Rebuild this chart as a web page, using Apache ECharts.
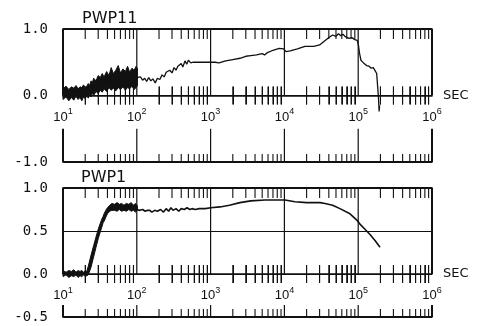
<!DOCTYPE html>
<html>
<head>
<meta charset="utf-8">
<script src="https://cdn.jsdelivr.net/npm/echarts@6/dist/echarts.min.js"></script>
<style>
  html, body { margin: 0; padding: 0; background: #fff; }
  #plot { width: 480px; height: 326px; }
</style>
</head>
<body>
<div id="plot"></div>
<script>
// PWP11 (upper panel): noisy band 10-100 s, then a single trace
var topBandT  = [10, 11, 12, 13, 14, 15, 16, 17, 18, 19, 20, 21, 22, 23, 24, 25, 26, 28, 30, 32, 34, 36, 39, 42, 45, 48, 52, 56, 60, 65, 70, 75, 80, 86, 92, 98, 102];
var topBandHi = [0.10, 0.14, 0.09, 0.13, 0.11, 0.15, 0.10, 0.13, 0.12, 0.16, 0.11, 0.14, 0.18, 0.15, 0.22, 0.19, 0.26, 0.22, 0.30, 0.27, 0.33, 0.28, 0.36, 0.30, 0.42, 0.33, 0.38, 0.45, 0.34, 0.40, 0.36, 0.44, 0.35, 0.41, 0.38, 0.44, 0.40];
var topBandLo = [-0.06, -0.02, -0.08, -0.03, -0.07, -0.01, -0.06, -0.03, -0.08, -0.02, -0.05, 0.00, -0.04, 0.02, -0.02, 0.04, 0.00, 0.06, 0.03, 0.08, 0.05, 0.10, 0.06, 0.12, 0.08, 0.11, 0.07, 0.12, 0.09, 0.13, 0.08, 0.12, 0.10, 0.14, 0.09, 0.12, 0.15];
var topLineT = [100, 105, 112, 120, 128, 136, 145, 155, 165, 178, 190, 205, 220, 235, 250, 265, 280, 300, 320, 340, 360, 380, 400, 420, 450, 475, 500, 540, 575, 700,
  1000, 1150, 1300, 1600, 2000, 2500, 3000, 3500, 4200, 5000, 5400, 5800, 7000, 8500, 9800, 10500, 12000, 15000, 19000, 25000, 30000, 35000, 41000, 45000,
  50000, 54000, 58000, 62000, 66000, 70000, 75000, 82000, 90000, 97000, 101000, 104000, 109000, 118000, 130000, 140000, 150000, 160000, 170000, 178000,
  183000, 188000, 192000, 195000];
var topLineV = [0.27, 0.25, 0.28, 0.23, 0.26, 0.21, 0.27, 0.22, 0.25, 0.19, 0.26, 0.24, 0.31, 0.28, 0.35, 0.33, 0.38, 0.34, 0.42, 0.38, 0.44, 0.41, 0.48, 0.43, 0.52, 0.47, 0.53, 0.49, 0.50, 0.50,
  0.50, 0.50, 0.49, 0.52, 0.54, 0.56, 0.59, 0.60, 0.61, 0.63, 0.61, 0.64, 0.68, 0.71, 0.70, 0.66, 0.67, 0.70, 0.74, 0.74, 0.76, 0.82, 0.88, 0.91,
  0.89, 0.93, 0.90, 0.92, 0.89, 0.91, 0.86, 0.87, 0.84, 0.83, 0.75, 0.64, 0.53, 0.49, 0.45, 0.44, 0.41, 0.42, 0.37, 0.33,
  0.15, -0.02, -0.24, -0.15];

// PWP1 (lower panel): noisy start and rise, then a single trace
var botBandT  = [10, 11, 12, 13, 14, 15, 16, 17, 18, 19, 20, 21, 22, 24, 26, 28, 30, 32, 34, 35, 36, 38, 40, 43, 46, 50, 54, 58, 62, 67, 72, 78, 84, 90, 96, 102];
var botBandHi = [0.04, 0.02, 0.04, 0.03, 0.05, 0.02, 0.04, 0.03, 0.04, 0.02, 0.04, 0.03, 0.09, 0.22, 0.33, 0.43, 0.52, 0.59, 0.65, 0.67, 0.70, 0.74, 0.77, 0.80, 0.82, 0.81, 0.83, 0.81, 0.82, 0.80, 0.82, 0.81, 0.83, 0.80, 0.82, 0.79];
var botBandLo = [-0.03, -0.01, -0.04, -0.02, -0.03, -0.01, -0.04, -0.02, -0.03, -0.01, -0.03, -0.02, -0.01, 0.08, 0.20, 0.31, 0.41, 0.49, 0.56, 0.60, 0.61, 0.66, 0.70, 0.73, 0.74, 0.74, 0.73, 0.75, 0.73, 0.74, 0.73, 0.75, 0.73, 0.74, 0.72, 0.74];
var botLineT = [100, 110, 120, 130, 140, 150, 160, 175, 190, 210, 230, 250, 270, 290, 310, 340, 370, 400, 440, 480, 520, 560, 620, 700, 850,
  1000, 1340, 1800, 2500, 3500, 5460, 10190, 13900, 20000, 30400, 35500, 45000, 56600, 77400, 95000, 105700, 123600, 144500, 169000, 197400];
var botLineV = [0.75, 0.74, 0.75, 0.73, 0.74, 0.74, 0.72, 0.74, 0.73, 0.75, 0.72, 0.76, 0.73, 0.77, 0.74, 0.76, 0.73, 0.76, 0.75, 0.77, 0.75, 0.76, 0.75, 0.76, 0.76,
  0.77, 0.78, 0.80, 0.83, 0.85, 0.86, 0.86, 0.84, 0.83, 0.83, 0.82, 0.80, 0.76, 0.70, 0.63, 0.58, 0.52, 0.46, 0.39, 0.31];

var titles = ['PWP11', 'PWP1'];
var yRanges = [[-1, 1, 1], [-0.5, 1, 0.5]];
var xMin = 10, xMax = 1000000;
var innerDecades = [100, 1000, 10000, 100000];

// 2..9 ticks inside each decade
var minorTicks = [];
for (var e = 1; e < 6; e++) {
  for (var m = 2; m <= 9; m++) {
    minorTicks.push(m * Math.pow(10, e));
  }
}

var ink = '#111';

function pairs(xs, ys) {
  return xs.map(function (x, i) { return [x, ys[i]]; });
}

function bandRenderer(ts, hi, lo) {
  return function (params, api) {
    var pts = [];
    for (var i = 0; i < ts.length; i++) pts.push(api.coord([ts[i], hi[i]]));
    for (var j = ts.length - 1; j >= 0; j--) pts.push(api.coord([ts[j], lo[j]]));
    return {
      type: 'polygon',
      shape: { points: pts },
      style: { fill: ink, stroke: ink, lineWidth: 1 }
    };
  };
}

// minor ticks as broken line segments: from the top edge, from the bottom edge, and across y = 0
function tickSegments(yMin, yMax, topLen, botLen, zeroLen) {
  var pts = [];
  minorTicks.forEach(function (v) {
    pts.push([v, yMax], [v, yMax - topLen], [v, null]);
    pts.push([v, yMin], [v, yMin + botLen], [v, null]);
    pts.push([v, -zeroLen], [v, zeroLen], [v, null]);
  });
  return pts;
}

// decade lines, interrupted where the tick labels sit (between 0 and gapEnd)
function decadeSegments(yMin, yMax, gapEnd) {
  var pts = [];
  innerDecades.forEach(function (v) {
    pts.push([v, yMax], [v, 0], [v, null]);
    pts.push([v, gapEnd], [v, yMin], [v, null]);
  });
  return pts;
}

// the box round a panel, open on the sides behind the first and last labels
function frameSegments(yMin, yMax, gapEnd) {
  return [
    [xMin, 0], [xMin, yMax], [xMax, yMax], [xMax, 0], [xMax, null],
    [xMax, gapEnd], [xMax, yMin], [xMin, yMin], [xMin, gapEnd]
  ];
}

function segSeries(xi, yi, data, width) {
  return {
    type: 'line', xAxisIndex: xi, yAxisIndex: yi, silent: true, showSymbol: false,
    connectNulls: false, clip: false, data: data,
    lineStyle: { color: ink, width: width }
  };
}

var myChart = echarts.init(document.getElementById('plot'));

var grids = [
  { left: 63, right: 48, top: 29, height: 133 },
  { left: 63, right: 48, top: 188, height: 129 }
];
// distance from the grid bottom / top to y = 0
var zeroOffsets = [-66.5, -43];
var zeroOffsetsTop = [-66.5, -86];
// y value where lines resume under the labels
var gapEnds = [-0.5, -0.36];

var xAxes = [];
var yAxes = [];
grids.forEach(function (g, k) {
  g.show = false;
  g.containLabel = false;
  g.outerBoundsMode = 'none';

  // labelled axis sitting on y = 0, minor ticks hanging below it
  xAxes.push({
    type: 'log', logBase: 10, gridIndex: k, min: xMin, max: xMax, splitNumber: 5,
    position: 'bottom', offset: zeroOffsets[k],
    axisLine: { show: true, onZero: false, lineStyle: { color: ink, width: 1.5 } },
    axisTick: { show: true, customValues: minorTicks, length: 9, lineStyle: { color: ink, width: 1 } },
    splitLine: { show: false },
    name: 'SEC', nameLocation: 'end', nameGap: 11,
    nameTextStyle: { color: ink, fontSize: 13, fontFamily: 'DejaVu Sans', verticalAlign: 'middle' },
    axisLabel: {
      margin: 12,
      color: ink,
      fontFamily: 'Liberation Sans',
      fontSize: 13,
      formatter: function (v) {
        return '{b|10}{s|' + Math.round(Math.log10(v)) + '}';
      },
      rich: {
        b: { fontFamily: 'Liberation Sans', fontSize: 13, lineHeight: 19, color: ink },
        s: { fontFamily: 'Liberation Sans', fontSize: 9, lineHeight: 10, verticalAlign: 'top', color: ink }
      }
    }
  });
  // same line seen from above: minor ticks standing up from y = 0
  xAxes.push({
    type: 'log', logBase: 10, gridIndex: k, min: xMin, max: xMax, splitNumber: 5,
    position: 'top', offset: zeroOffsetsTop[k],
    axisLine: { show: false, onZero: false },
    axisTick: { show: true, customValues: minorTicks, length: 9, lineStyle: { color: ink, width: 1 } },
    axisLabel: { show: false },
    splitLine: { show: false }
  });
  yAxes.push({
    type: 'value', gridIndex: k, min: yRanges[k][0], max: yRanges[k][1], interval: yRanges[k][2],
    axisLine: { show: false, onZero: false },
    axisTick: { show: false },
    splitLine: { show: true, lineStyle: { color: ink, width: 1 } },
    axisLabel: {
      margin: 15, color: ink, fontFamily: 'DejaVu Sans Mono', fontSize: 14,
      formatter: function (v) { return v.toFixed(1); }
    }
  });
});

var option = {
  backgroundColor: '#fff',
  animation: false,
  title: [
    { text: titles[0], left: 82, top: 11, padding: 0,
      textStyle: { fontSize: 16, fontWeight: 'normal', fontFamily: 'DejaVu Sans', color: ink } },
    { text: titles[1], left: 81, top: 170, padding: 0,
      textStyle: { fontSize: 16, fontWeight: 'normal', fontFamily: 'DejaVu Sans', color: ink } }
  ],
  grid: grids,
  xAxis: xAxes,
  yAxis: yAxes,
  series: [
    segSeries(0, 0, frameSegments(-1, 1, gapEnds[0]), 2),
    segSeries(2, 1, frameSegments(-0.5, 1, gapEnds[1]), 2),
    segSeries(0, 0, decadeSegments(-1, 1, gapEnds[0]), 1.2),
    segSeries(2, 1, decadeSegments(-0.5, 1, gapEnds[1]), 1.2),
    segSeries(0, 0, tickSegments(-1, 1, 0.15, 0.12, 0.135), 1.1),
    segSeries(2, 1, tickSegments(-0.5, 1, 0.116, 0.093, 0.105), 1.1),
    { type: 'custom', xAxisIndex: 0, yAxisIndex: 0, renderItem: bandRenderer(topBandT, topBandHi, topBandLo),
      data: [[topBandT[0], topBandHi[0]]], encode: { x: 0, y: 1 }, silent: true },
    { type: 'custom', xAxisIndex: 2, yAxisIndex: 1, renderItem: bandRenderer(botBandT, botBandHi, botBandLo),
      data: [[botBandT[0], botBandHi[0]]], encode: { x: 0, y: 1 }, silent: true },
    { type: 'line', name: 'PWP11', xAxisIndex: 0, yAxisIndex: 0, data: pairs(topLineT, topLineV),
      showSymbol: false, lineStyle: { color: ink, width: 1.3 } },
    { type: 'line', name: 'PWP1', xAxisIndex: 2, yAxisIndex: 1, data: pairs(botLineT, botLineV),
      showSymbol: false, lineStyle: { color: ink, width: 1.6 } }
  ]
};

myChart.setOption(option);
</script>
</body>
</html>
